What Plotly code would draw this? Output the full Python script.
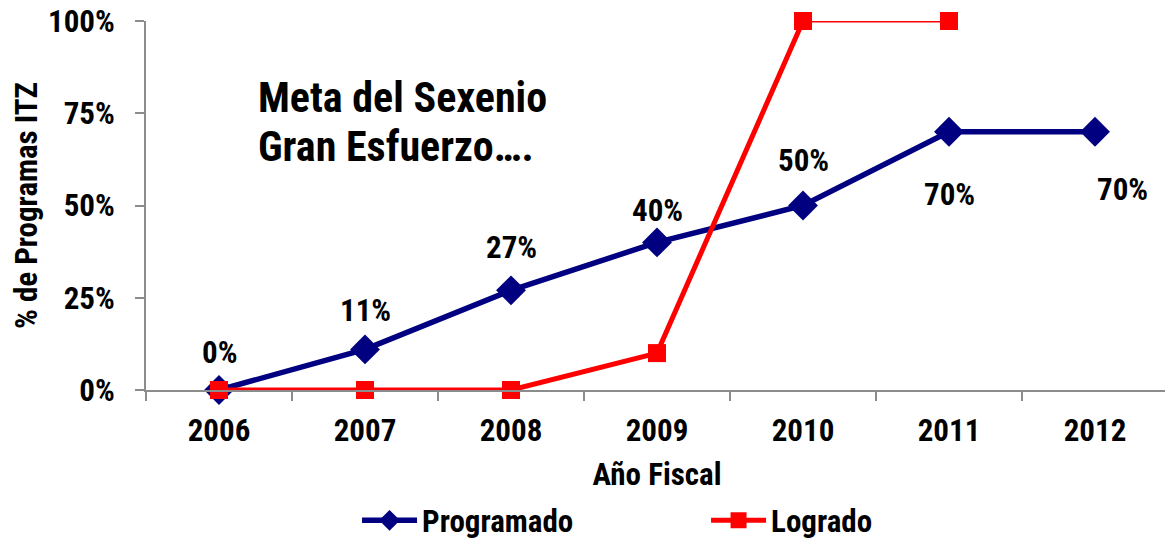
import plotly.graph_objects as go

years = ["2006", "2007", "2008", "2009", "2010", "2011", "2012"]
programado = [0.00, 0.11, 0.27, 0.40, 0.50, 0.70, 0.70]
logrado = [0.00, 0.00, 0.00, 0.10, 1.00, 1.00]
prog_labels = ["0%", "11%", "27%", "40%", "50%", "70%", "70%"]
note_lines = ["Meta del Sexenio", "Gran Esfuerzo…."]

NAVY = "#000080"
RED = "#FF0000"
FONT = "Liberation Sans Narrow, Arial Narrow, Roboto Condensed, Roboto, sans-serif"

fig = go.Figure()

fig.add_trace(go.Scatter(
    x=years, y=programado, name="Programado", mode="lines+markers",
    line=dict(color=NAVY, width=5.5),
    marker=dict(symbol="diamond", size=23, color=NAVY),
    cliponaxis=False, legend="legend",
))
# main red line (thick) up to 2010
fig.add_trace(go.Scatter(
    x=years[:5], y=logrado[:5], name="Logrado", mode="lines+markers",
    line=dict(color=RED, width=5),
    marker=dict(symbol="square", size=18, color=RED),
    cliponaxis=False, legend="legend2",
))
# thin final segment 2010-2011
fig.add_trace(go.Scatter(
    x=years[4:6], y=logrado[4:6], mode="lines+markers", showlegend=False,
    line=dict(color=RED, width=3),
    marker=dict(symbol="square", size=18, color=RED),
    cliponaxis=False,
))

# data labels for Programado (x as category index)
shifts = [(0, 38), (0, 39), (0, 43), (0, 32), (0, 45), (0, -63), (27, -58)]
for i, (val, lab, (dx, dy)) in enumerate(zip(programado, prog_labels, shifts)):
    fig.add_annotation(x=i, y=val, text=lab, showarrow=False,
                       xshift=dx, yshift=dy,
                       font=dict(family=FONT, size=31, color="black", weight="bold"))

# two-line note
for line, ypos in zip(note_lines, [0.794, 0.660]):
    fig.add_annotation(
        xref="paper", yref="paper", x=0.108, y=ypos, xanchor="left", yanchor="middle",
        text=line, showarrow=False,
        font=dict(family=FONT, size=42, color="black", weight="bold"),
    )

legend_style = dict(orientation="h", xanchor="left", yref="container", y=0.04,
                    yanchor="middle", font=dict(family=FONT, size=31, weight="bold"),
                    itemwidth=55, bgcolor="rgba(0,0,0,0)")

# page has an 8px body margin, so the figure is 16px smaller than the window
fig.update_layout(
    width=1165, height=534,
    margin=dict(l=138, r=5, t=13, b=152, autoexpand=False),
    paper_bgcolor="white", plot_bgcolor="white",
    font=dict(family=FONT, size=31, color="black", weight="bold"),
    showlegend=True,
    legend=dict(x=0.2065, **legend_style),
    legend2=dict(x=0.548, **legend_style),
    xaxis=dict(
        type="category", range=[-0.5, 6.5],
        showline=True, linecolor="#8c8c8c", linewidth=2,
        ticks="outside", tickson="boundaries", ticklen=9, tickcolor="#8c8c8c", tickwidth=2,
        ticklabelstandoff=12,
        showgrid=False, zeroline=False,
        tickfont=dict(family=FONT, size=31, weight="bold"),
        title=dict(text="Año Fiscal", standoff=15,
                   font=dict(family=FONT, size=31, weight="bold")),
    ),
    yaxis=dict(
        range=[0, 1], tickvals=[0, 0.25, 0.5, 0.75, 1.0], tickformat=".0%",
        showline=True, linecolor="#8c8c8c", linewidth=2,
        ticks="outside", ticklen=9, tickcolor="#8c8c8c", tickwidth=2,
        ticklabelstandoff=14, ticklabeloverflow="allow",
        showgrid=False, zeroline=False,
        tickfont=dict(family=FONT, size=31, weight="bold"),
        title=dict(text="% de Programas ITZ", standoff=17,
                   font=dict(family=FONT, size=31, weight="bold")),
    ),
)

fig.write_html("out.html")
